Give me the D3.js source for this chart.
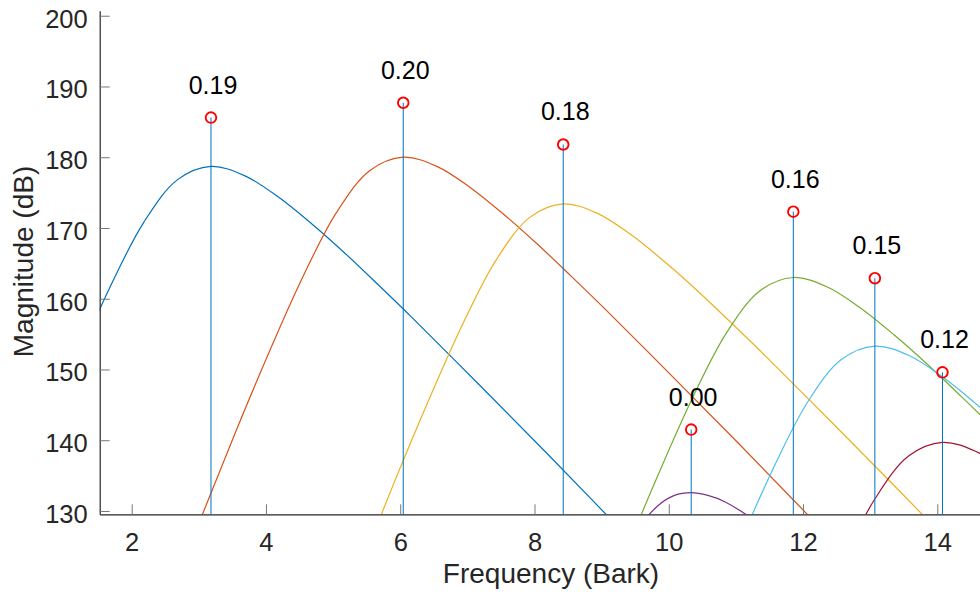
<!DOCTYPE html>
<html>
<head>
<meta charset="utf-8">
<script src="https://cdn.jsdelivr.net/npm/d3@7"></script>
<style>
  html, body { margin: 0; padding: 0; background: #fff; }
  svg { display: block; font-family: "Liberation Sans", Arial, Helvetica, sans-serif; }
</style>
</head>
<body>
<svg id="chart" width="980" height="594"></svg>
<script>
// stems: bark position, magnitude (dB) and label
var stemBark = [3.181, 6.045, 8.428, 10.334, 11.855, 13.07, 14.077];
var stemDb = [185.6, 187.7, 181.8, 141.5, 172.3, 162.9, 149.6];
var stemLabels = ["0.19", "0.20", "0.18", "0.00", "0.16", "0.15", "0.12"];

// spreading curves, [bark, dB]
var curveBlue = [[1.18, 151.1], [1.68, 161.7], [2.18, 170.8], [2.68, 176.8], [3.18, 178.7], [3.68, 177.4],
  [4.18, 174.4], [4.68, 170.6], [5.18, 166.4], [5.68, 161.9], [6.18, 157.3], [7.18, 147.8], [8.18, 138.2], [9.18, 128.4], [10.18, 118.6]];
var curveOrange = [[2.545, 117.4], [3.045, 129.3], [3.545, 141.1], [4.045, 152.4], [4.545, 163.0], [5.045, 172.1], [5.545, 178.1],
  [6.045, 180.0], [6.545, 178.7], [7.045, 175.7], [7.545, 171.9], [8.045, 167.7], [8.545, 163.2], [9.045, 158.6],
  [10.045, 149.1], [11.045, 139.5], [12.045, 129.7], [13.045, 119.9]];
var curveYellow = [[4.93, 110.5], [5.43, 122.7], [5.93, 134.5], [6.43, 145.8], [6.93, 156.4], [7.43, 165.5], [7.93, 171.5],
  [8.43, 173.4], [8.93, 172.1], [9.43, 169.1], [9.93, 165.3], [10.43, 161.1], [10.93, 156.6], [11.43, 152.0],
  [12.43, 142.5], [13.43, 132.9], [14.43, 123.1], [15.43, 113.3]];
var curvePurple = [[8.834, 114.7], [9.334, 124.7], [9.834, 130.7], [10.084, 132.2], [10.334, 132.6], [10.584, 132.2],
  [10.834, 131.3], [11.334, 128.3], [11.834, 124.5], [12.334, 120.3]];
var curveGreen = [[8.355, 100.5], [8.855, 112.3], [9.355, 124.1], [9.855, 135.4], [10.355, 146.0], [10.855, 155.1], [11.355, 161.1],
  [11.855, 163.0], [12.355, 161.7], [12.855, 158.7], [13.355, 154.9], [13.855, 150.7], [14.355, 146.2], [14.855, 141.6], [15.855, 132.1]];
var curveLightBlue = [[10.07, 102.6], [10.57, 114.4], [11.07, 125.7], [11.57, 136.3], [12.07, 145.4], [12.57, 151.4],
  [13.07, 153.3], [13.57, 152.0], [14.07, 149.0], [14.57, 145.2], [15.07, 141.0], [15.57, 136.5]];
var curveDarkRed = [[12.077, 112.1], [12.577, 122.7], [13.077, 131.8], [13.577, 137.8], [14.077, 139.7], [14.577, 138.4],
  [15.077, 135.4], [15.577, 131.6]];

var curves = [curveBlue, curveOrange, curveYellow, curvePurple, curveGreen, curveLightBlue, curveDarkRed];
var curveColors = ["#0072BD", "#D95319", "#EDB120", "#7E2F8E", "#77AC30", "#4DBEEE", "#A2142F"];

var xTicks = [2, 4, 6, 8, 10, 12, 14];
var yTicks = [130, 140, 150, 160, 170, 180, 190, 200];

(function() {
  var svg = d3.select("#chart");
  var plotLeft = 99.7, plotRight = 989, plotTop = 10.7, plotBottom = 514.3;

  var x = d3.scaleLinear().domain([1.5235, 14.77]).range([plotLeft, plotRight]);
  var y = d3.scaleLinear().domain([129.53, 200.71]).range([plotBottom, plotTop]);

  svg.append("defs").append("clipPath").attr("id", "plot-clip")
    .append("rect")
    .attr("x", plotLeft).attr("y", plotTop)
    .attr("width", plotRight - plotLeft).attr("height", plotBottom - plotTop);

  var plot = svg.append("g").attr("clip-path", "url(#plot-clip)");

  var line = d3.line()
    .x(function(d) { return x(d[0]); })
    .y(function(d) { return y(d[1]); })
    .curve(d3.curveCatmullRom.alpha(0.5));

  plot.selectAll(".spread")
    .data(curves)
    .enter().append("path")
    .attr("class", "spread")
    .attr("fill", "none")
    .attr("stroke", function(d, i) { return curveColors[i]; })
    .attr("stroke-width", 1.2)
    .attr("d", line);

  var stems = stemBark.map(function(b, i) {
    return { bark: b, db: stemDb[i], label: stemLabels[i] };
  });

  plot.selectAll(".stem")
    .data(stems)
    .enter().append("line")
    .attr("class", "stem")
    .attr("x1", function(d) { return x(d.bark); })
    .attr("x2", function(d) { return x(d.bark); })
    .attr("y1", y(y.domain()[0]))
    .attr("y2", function(d) { return y(d.db); })
    .attr("stroke", "#0072BD")
    .attr("stroke-width", 1);

  plot.selectAll(".marker")
    .data(stems)
    .enter().append("circle")
    .attr("class", "marker")
    .attr("cx", function(d) { return x(d.bark); })
    .attr("cy", function(d) { return y(d.db); })
    .attr("r", 5.3)
    .attr("fill", "none")
    .attr("stroke", "#FF0000")
    .attr("stroke-width", 1.9);

  svg.selectAll(".stem-label")
    .data(stems)
    .enter().append("text")
    .attr("class", "stem-label")
    .attr("x", function(d) { return x(d.bark) + 2; })
    .attr("y", function(d) { return y(d.db) - 24; })
    .attr("text-anchor", "middle")
    .attr("fill", "#000")
    .style("font-size", "25px")
    .text(function(d) { return d.label; });

  // axes, ticks point inward
  var yAxis = svg.append("g")
    .attr("transform", "translate(" + plotLeft + ",0)")
    .call(d3.axisLeft(y).tickValues(yTicks).tickSizeInner(-10).tickSizeOuter(0).tickPadding(12));
  var xAxis = svg.append("g")
    .attr("transform", "translate(0," + plotBottom + ")")
    .call(d3.axisBottom(x).tickValues(xTicks).tickSizeInner(-10).tickSizeOuter(0).tickPadding(18.6));

  [xAxis, yAxis].forEach(function(ax) {
    ax.select(".domain").attr("stroke", "#262626").attr("stroke-width", 1.2);
    ax.selectAll(".tick line").attr("stroke", "#777").attr("stroke-width", 1);
    ax.selectAll(".tick text")
      .attr("fill", "#262626")
      .style("font-size", "25.5px")
      .style("font-family", "'Liberation Sans', Arial, sans-serif");
  });
  yAxis.selectAll(".tick text").attr("dy", "0.45em");

  svg.append("text")
    .attr("x", 551)
    .attr("y", 583)
    .attr("text-anchor", "middle")
    .attr("fill", "#262626")
    .style("font-size", "28px")
    .text("Frequency (Bark)");

  svg.append("text")
    .attr("transform", "translate(33,261.5) rotate(-90)")
    .attr("text-anchor", "middle")
    .attr("fill", "#262626")
    .style("font-size", "28px")
    .text("Magnitude (dB)");
})();
</script>
</body>
</html>
